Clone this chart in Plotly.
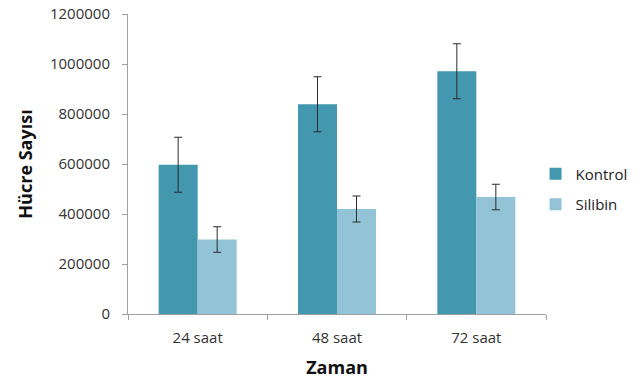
import plotly.graph_objects as go

categories = ["24 saat", "48 saat", "72 saat"]
kontrol = [597000, 839000, 971000]
kontrol_err = [110000, 110000, 110000]
silibin = [298000, 420000, 468000]
silibin_err = [51000, 52000, 51000]
y_ticks = [0, 200000, 400000, 600000, 800000, 1000000, 1200000]

font_family = "Open Sans, Liberation Sans, sans-serif"

fig = go.Figure()
fig.add_trace(go.Bar(
    x=categories, y=kontrol, name="Kontrol", legendgroup="k",
    marker=dict(color="#4397AE", line=dict(width=0)),
    error_y=dict(type="data", array=kontrol_err, visible=True,
                 color="#2b2b2b", thickness=1, width=4),
))
fig.add_trace(go.Bar(
    x=categories, y=silibin, name="Silibin", legendgroup="s",
    marker=dict(color="#93C3D6", line=dict(width=0)),
    error_y=dict(type="data", array=silibin_err, visible=True,
                 color="#2b2b2b", thickness=1, width=4),
))

# page body adds an 8px offset, so the figure is sized 8px smaller
fig.update_layout(
    width=632, height=375,
    margin=dict(l=120, r=94, t=6, b=69, autoexpand=False),
    paper_bgcolor="white", plot_bgcolor="white",
    barmode="group", bargap=0.44, bargroupgap=0,
    font=dict(family=font_family, size=15, color="#333333"),
    showlegend=True,
    legend=dict(x=0.975, y=0.417, xanchor="left", yanchor="middle",
                font=dict(size=15, color="#222222"),
                itemwidth=30, tracegroupgap=8, bgcolor="rgba(0,0,0,0)"),
    xaxis=dict(
        type="category", showline=True, linecolor="#A0A0A0", linewidth=1,
        ticks="outside", tickson="boundaries", ticklen=5, tickcolor="#A0A0A0",
        ticklabelstandoff=10,
        showgrid=False, tickfont=dict(size=15, color="#333333"), automargin=False,
        title=dict(text="<b>Zaman</b>", font=dict(size=18, color="#111111"), standoff=15),
    ),
    yaxis=dict(
        range=[0, 1200000], tickvals=y_ticks, tickformat="d",
        showline=True, linecolor="#A0A0A0", linewidth=1,
        ticks="outside", ticklen=5, tickcolor="#A0A0A0", automargin=False,
        ticklabelstandoff=9, ticklabeloverflow="allow",
        showgrid=False, zeroline=False, tickfont=dict(size=15, color="#333333"),
        title=dict(text="<b>Hücre Sayısı</b>", font=dict(size=18, color="#111111"), standoff=12),
    ),
)

fig.write_html("out.html")
